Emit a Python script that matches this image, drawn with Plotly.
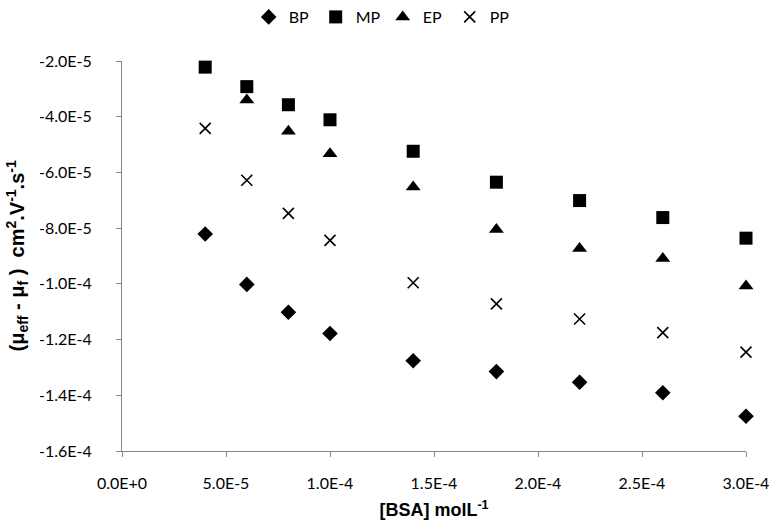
import plotly.graph_objects as go

# BSA concentration (mol/L)
bsa = [4e-5, 6e-5, 8e-5, 1.0e-4, 1.4e-4, 1.8e-4, 2.2e-4, 2.6e-4, 3.0e-4]

# Mobility difference (mu_eff - mu_f), cm2 V-1 s-1
bp = [-8.21e-5, -1.002e-4, -1.102e-4, -1.178e-4, -1.276e-4, -1.315e-4, -1.353e-4, -1.391e-4, -1.475e-4]
mp = [-2.22e-5, -2.92e-5, -3.57e-5, -4.11e-5, -5.24e-5, -6.35e-5, -7.01e-5, -7.62e-5, -8.36e-5]
ep = [None, -3.40e-5, -4.52e-5, -5.33e-5, -6.52e-5, -8.05e-5, -8.73e-5, -9.09e-5, -1.008e-4]
pp = [-4.42e-5, -6.28e-5, -7.47e-5, -8.44e-5, -9.96e-5, -1.072e-4, -1.126e-4, -1.175e-4, -1.245e-4]

x_ticks = [0, 5e-5, 1.0e-4, 1.5e-4, 2.0e-4, 2.5e-4, 3.0e-4]
x_labels = ["0.0E+0", "5.0E-5", "1.0E-4", "1.5E-4", "2.0E-4", "2.5E-4", "3.0E-4"]
y_ticks = [-2e-5, -4e-5, -6e-5, -8e-5, -1.0e-4, -1.2e-4, -1.4e-4, -1.6e-4]
y_labels = ["-2.0E-5", "-4.0E-5", "-6.0E-5", "-8.0E-5", "-1.0E-4", "-1.2E-4", "-1.4E-4", "-1.6E-4"]

FONT = "Lato, 'Open Sans', sans-serif"
TITLE_FONT = "'Liberation Sans', Arial, sans-serif"
AXIS_GREY = "#868686"

series = [
    ("BP", bp, dict(symbol="diamond", size=12)),
    ("MP", mp, dict(symbol="square", size=13)),
    ("EP", ep, dict(symbol="triangle-up", size=13)),
    ("PP", pp, dict(symbol="x-thin", size=11, line=dict(width=1.6, color="black"))),
]

fig = go.Figure()
for name, vals, marker in series:
    fig.add_trace(go.Scatter(
        x=bsa, y=vals, name=name, mode="markers", cliponaxis=False,
        marker=dict(color="black", **marker),
    ))

fig.update_layout(
    width=781, height=529,
    margin=dict(l=122, r=32, t=61, b=77),
    paper_bgcolor="white", plot_bgcolor="white",
    font=dict(family=FONT, size=16, color="black"),
    showlegend=True,
    legend=dict(
        orientation="h", xref="container", x=0.49, xanchor="center",
        yref="container", y=1.0, yanchor="top",
        font=dict(family=FONT, size=16), itemwidth=30, tracegroupgap=0,
        entrywidth=22, entrywidthmode="pixels",
        bgcolor="rgba(0,0,0,0)",
    ),
    xaxis=dict(
        range=[0, 3.0e-4], tickvals=x_ticks, ticktext=x_labels,
        showgrid=False, zeroline=False, showline=True, linecolor=AXIS_GREY, linewidth=1,
        ticks="outside", ticklen=5, tickcolor=AXIS_GREY, tickfont=dict(size=16),
        ticklabelstandoff=13,
        title=dict(text="<b>[BSA] molL<sup>-1</sup></b>", font=dict(family=TITLE_FONT, size=18), standoff=12),
    ),
    yaxis=dict(
        range=[-1.6e-4, -2e-5], tickvals=y_ticks, ticktext=y_labels,
        showgrid=False, zeroline=False, showline=True, linecolor=AXIS_GREY, linewidth=1,
        ticks="outside", ticklen=5, tickcolor=AXIS_GREY, tickfont=dict(size=16),
        ticklabelstandoff=21,
    ),
    annotations=[dict(
        text="<b>(μ<sub>eff</sub> - μ<sub>f</sub> )  cm<sup>2</sup>.V<sup>-1</sup>.s<sup>-1</sup></b>",
        font=dict(family=TITLE_FONT, size=20, color="black"),
        textangle=-90, showarrow=False,
        xref="paper", yref="paper", x=-106 / 627, y=0.5,
        xanchor="center", yanchor="middle",
    )],
)

fig.write_html("out.html")
